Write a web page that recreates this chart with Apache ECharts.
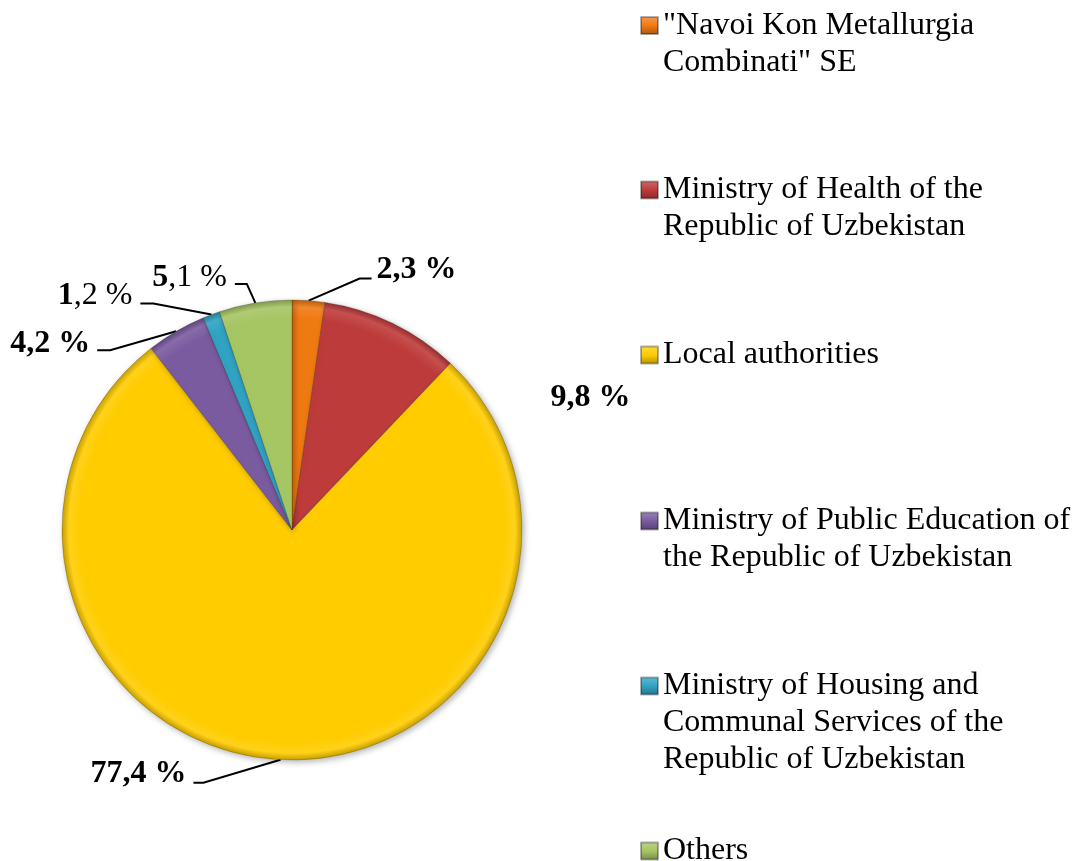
<!DOCTYPE html>
<html><head><meta charset="utf-8">
<script src="https://cdn.jsdelivr.net/npm/echarts@6/dist/echarts.min.js"></script>
<style>html,body{margin:0;padding:0;background:#fff}#c{width:1074px;height:861px}</style>
</head><body><div id="c"></div>
<script>
// ---- data ----
const categories = [
  '"Navoi Kon Metallurgia Combinati" SE',
  'Ministry of Health of the Republic of Uzbekistan',
  'Local authorities',
  'Ministry of Public Education of the Republic of Uzbekistan',
  'Ministry of Housing and Communal Services of the Republic of Uzbekistan',
  'Others'
];
const values = [2.3, 9.8, 77.4, 4.2, 1.2, 5.1];
const legendLines = [
  ['"Navoi Kon Metallurgia', 'Combinati" SE'],
  ['Ministry of Health of the', 'Republic of Uzbekistan'],
  ['Local authorities'],
  ['Ministry of Public Education of', 'the Republic of Uzbekistan'],
  ['Ministry of Housing and', 'Communal Services of the', 'Republic of Uzbekistan'],
  ['Others']
];
const boldWholeLabel = [true, true, true, true, false, false];

// ---- styles / layout ----
const colors = ['#F07A12', '#BE3B3B', '#FFCC00', '#7B5BA0', '#30A3C3', '#A6C563'];
const FONT = "'Liberation Serif','Times New Roman',serif";
const CX = 292, CY = 530, R = 230;
const LH = 37;
const legendCenters = [25.6, 190, 355, 521, 686, 851];
const labelGeom = [
  {line: true, elbow: [51, -22], run: 12, gap: 5, dy: -9},
  {line: false, at: [158, 75]},
  {line: true, elbow: [-77, 23], run: 10, gap: 7, dy: -9},
  {line: true, elbow: [-66, 19], run: 13, gap: 7, dy: -7},
  {line: true, elbow: [-58, -11], run: 13, gap: 8, dy: -8},
  {line: true, elbow: [-8.5, -19], run: 12, gap: 8, dy: -6}
];

function shade(hex, f) {
  const n = parseInt(hex.slice(1), 16);
  let r = (n >> 16) & 255, g = (n >> 8) & 255, b = n & 255;
  const m = c => f >= 0 ? Math.round(c + (255 - c) * f) : Math.round(c * (1 + f));
  return 'rgb(' + m(r) + ',' + m(g) + ',' + m(b) + ')';
}
function sliceGrad(c) {
  return {type: 'radial', x: CX, y: CY, r: R, global: true, colorStops: [
    {offset: 0, color: c}, {offset: 0.92, color: c},
    {offset: 0.97, color: shade(c, 0.1)}, {offset: 1, color: shade(c, -0.22)}
  ]};
}
function legendGrad(c) {
  return {type: 'linear', x: 0, y: 0, x2: 0, y2: 1, colorStops: [
    {offset: 0, color: shade(c, 0.25)}, {offset: 0.5, color: c}, {offset: 1, color: shade(c, -0.3)}
  ]};
}
function fmtValue(v, i) {
  const s = v.toFixed(1).replace('.', ',');
  if (boldWholeLabel[i]) return '{b|' + s + ' %}';
  const parts = s.split(',');
  return '{b|' + parts[0] + '}{n|,' + parts[1] + ' %}';
}

const chart = echarts.init(document.getElementById('c'), null, {renderer: 'canvas'});

function edgePoint(i) {
  try {
    const lay = chart.getModel().getSeriesByIndex(0).getData().getItemLayout(i);
    const mid = (lay.startAngle + lay.endAngle) / 2;
    return [lay.cx + lay.r * Math.cos(mid), lay.cy + lay.r * Math.sin(mid)];
  } catch (e) {
    const total = values.reduce((a, b) => a + b, 0);
    let cum = 0;
    for (let k = 0; k < i; k++) cum += values[k];
    const a = -Math.PI / 2 + (cum + values[i] / 2) / total * Math.PI * 2;
    return [CX + R * Math.cos(a), CY + R * Math.sin(a)];
  }
}

// blank leading lines keep the marker level with the first text line
const legends = categories.map((name, i) => {
  const n = legendLines[i].length;
  return {
    data: [{name: name, itemStyle: {color: legendGrad(colors[i])}}],
    left: 640, top: legendCenters[i] - (2 * n - 1) * LH / 2,
    orient: 'vertical', padding: 0, itemGap: 0, itemWidth: 17, itemHeight: 17,
    icon: 'rect', selectedMode: false,
    formatter: nm => {
      const lines = legendLines[categories.indexOf(nm)];
      return new Array(lines.length - 1).fill(' ').concat(lines).join('\n');
    },
    textStyle: {fontFamily: FONT, fontSize: 32, color: '#000', lineHeight: LH}
  };
});

chart.setOption({
  animation: false,
  backgroundColor: '#fff',
  legend: legends,
  series: [{
    type: 'pie',
    center: [CX, CY],
    radius: R,
    startAngle: 90,
    clockwise: true,
    avoidLabelOverlap: false,
    emphasis: {disabled: true},
    data: categories.map((name, i) => ({
      name: name, value: values[i],
      itemStyle: {color: sliceGrad(colors[i])},
      labelLine: {show: labelGeom[i].line}
    })),
    itemStyle: {borderColor: 'rgba(0,0,0,0.3)', borderWidth: 0.6,
      shadowBlur: 6, shadowColor: 'rgba(0,0,0,0.3)', shadowOffsetX: 2, shadowOffsetY: 2},
    label: {
      show: true, position: 'outside', color: '#000',
      formatter: p => fmtValue(values[p.dataIndex], p.dataIndex),
      rich: {
        b: {fontFamily: FONT, fontSize: 32, fontWeight: 'bold', color: '#000'},
        n: {fontFamily: FONT, fontSize: 32, fontWeight: 'normal', color: '#000'}
      }
    },
    labelLine: {show: true, lineStyle: {color: '#000', width: 2}},
    labelLayout: function (p) {
      const i = p.dataIndex;
      const g = labelGeom[i];
      const [x0, y0] = edgePoint(i);
      if (!g.line) {
        return {x: x0 + g.at[0], y: y0 + g.at[1], align: 'left', verticalAlign: 'middle'};
      }
      const ex = x0 + g.elbow[0], ey = y0 + g.elbow[1];
      const s = g.elbow[0] >= 0 ? 1 : -1;
      const rx = ex + s * g.run;
      return {
        x: rx + s * g.gap, y: ey + g.dy,
        align: s > 0 ? 'left' : 'right', verticalAlign: 'middle',
        labelLinePoints: [[x0, y0], [ex, ey], [rx, ey]]
      };
    }
  }]
});
</script></body></html>
